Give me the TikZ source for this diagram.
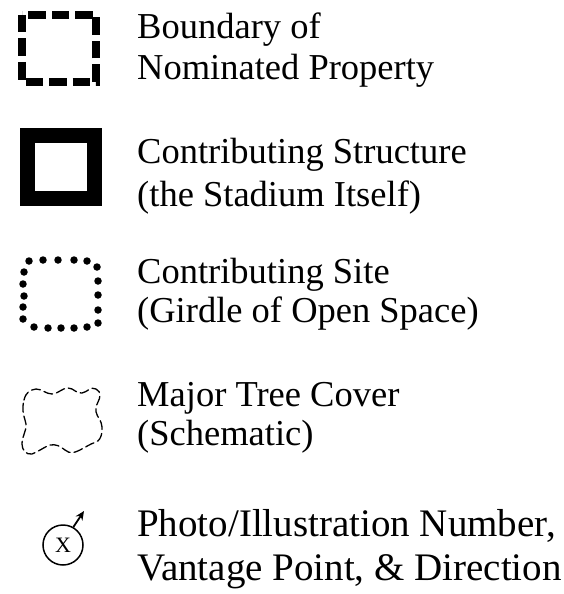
\documentclass[tikz,border=0pt]{standalone}
\usepackage{fontspec}
\setmainfont{Liberation Serif}
\usetikzlibrary{arrows.meta}
\begin{document}
\begin{tikzpicture}[x=1pt,y=-1pt,
  lab/.style={anchor=base west,inner sep=0pt,font=\fontsize{36.5}{40}\selectfont},
  labbig/.style={anchor=base west,inner sep=0pt,font=\fontsize{39}{44}\selectfont},
  dotmark/.style={fill=black,draw=none,circle,minimum size=7.5pt,inner sep=0pt}]
\useasboundingbox[fill=white] (0,0) rectangle (563,594);
% row 1: boundary
\draw[line width=8pt,dash pattern=on 17.5pt off 6pt] (22,15) rectangle (96,82);
\node[lab] (l1a) at (137,38.5) {Boundary of};
\node[lab] (l1b) at (137,79.5) {Nominated Property};
% row 2: structure
\draw[line width=15pt] (27.5,135.5) rectangle (94.5,198);
\node[lab] (l2a) at (137,163.5) {Contributing Structure};
\node[lab] (l2b) at (137,206.5) {(the Stadium Itself)};
% row 3: dots
\foreach \p [count=\i] in {(29,261),(43,260),(58,260),(74,260),(87,261),(97,267),(98,281),(98,295),(98,310),(98,323),(87,327),(74,328),(61,328),(48,328),(34,327),(23,319),(23,307),(24,296),(23,284),(24,272)}
  \node[dotmark] (d\i) at \p {};
\node[lab] (l3a) at (137,283.5) {Contributing Site};
\node[lab] (l3b) at (137,322.5) {(Girdle of Open Space)};
% row 4: tree cover
\draw[line width=1.3pt,dash pattern=on 9pt off 4pt,line cap=round]
  (24,400) .. controls (26,392) and (30,390) .. (36,389)
  .. controls (42,389) and (46,394) .. (52,394)
  .. controls (58,394) and (62,388) .. (68,388)
  .. controls (74,388) and (76,394) .. (82,393)
  .. controls (88,392) and (90,386) .. (96,389)
  .. controls (102,392) and (100,398) .. (98,402)
  .. controls (94,410) and (96,414) .. (100,420)
  .. controls (104,428) and (102,440) .. (96,442)
  .. controls (90,444) and (86,447) .. (80,450)
  .. controls (74,453) and (70,454) .. (65,450)
  .. controls (60,446) and (56,444) .. (50,445)
  .. controls (44,447) and (38,452) .. (32,454)
  .. controls (26,455) and (22,450) .. (22,444)
  .. controls (22,436) and (27,430) .. (26,424)
  .. controls (25,418) and (21,412) .. (24,400) -- cycle;
\node[lab] (l4a) at (137,406.5) {Major Tree Cover};
\node[lab] (l4b) at (137,445.5) {(Schematic)};
% row 5: photo symbol
\node[draw,circle,line width=1.5pt,minimum size=40pt,inner sep=0pt,font=\fontsize{22}{22}\selectfont] (ph) at (63,545) {X};
\coordinate (tip) at (84,511);
\draw[line width=1.8pt,-{Stealth[length=9pt,width=8pt]}] (ph.60) -- (tip);
\node[labbig] (l5a) at (137,536) {Photo/Illustration Number,};
\node[labbig] (l5b) at (137,580) {Vantage Point, \& Direction};
\end{tikzpicture}
\end{document}
